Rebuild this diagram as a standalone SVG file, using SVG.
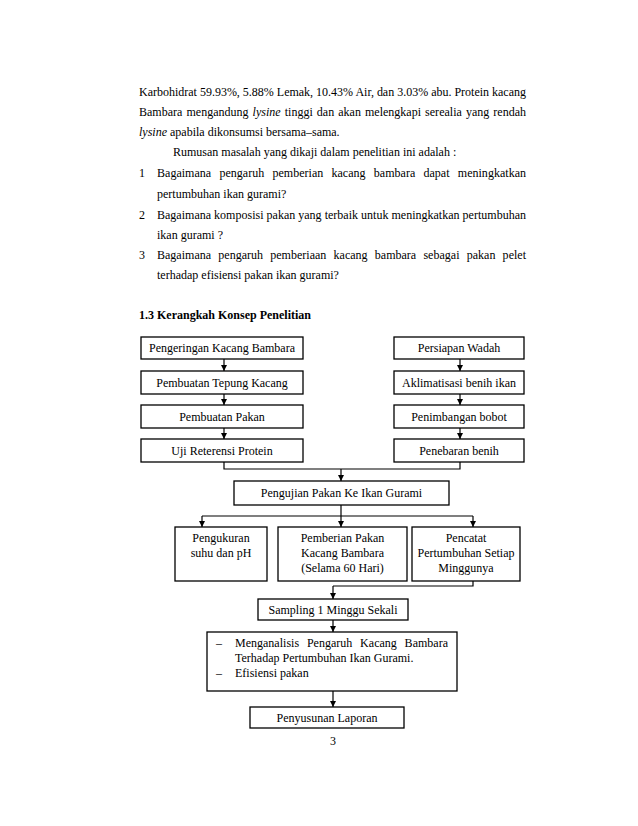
<svg xmlns="http://www.w3.org/2000/svg" width="638" height="826" viewBox="0 0 638 826">
<defs>
<marker id="arr" markerUnits="userSpaceOnUse" markerWidth="6" markerHeight="7" refX="6" refY="3" orient="auto">
<path d="M0,0 L6,3 L0,6 z" fill="#000"/>
</marker>
<style>
.body{font-family:"Liberation Serif","Times New Roman",serif;font-size:12px;fill:#000}
.hd{font-family:"Liberation Serif","Times New Roman",serif;font-size:12px;font-weight:bold;fill:#000}
.bx{fill:#fff;stroke:#000;stroke-width:1.3}
.lbl{font-family:"Liberation Serif","Times New Roman",serif;font-size:12px;fill:#000;text-anchor:middle}
.ln{fill:none;stroke:#000;stroke-width:1.2}
.ar{fill:none;stroke:#000;stroke-width:1.2;marker-end:url(#arr)}
</style>
</defs>
<rect width="638" height="826" fill="#fff"/>
<g id="text-body">
<text class="body" x="139" y="95.5" textLength="387" lengthAdjust="spacing">Karbohidrat 59.93%, 5.88% Lemak, 10.43% Air, dan 3.03% abu. Protein kacang</text>
<text class="body" x="139" y="115.5" word-spacing="1" textLength="387" lengthAdjust="spacing">Bambara mengandung <tspan font-style="italic">lysine</tspan> tinggi dan akan melengkapi serealia yang rendah</text>
<text class="body" x="139" y="135.5"><tspan font-style="italic">lysine</tspan> apabila dikonsumsi bersama–sama.</text>
<text class="body" x="173" y="155.5">Rumusan masalah yang dikaji dalam penelitian ini adalah :</text>
<text class="body" x="139" y="176.5">1</text>
<text class="body" x="157" y="176.5" word-spacing="5.2" textLength="369" lengthAdjust="spacing">Bagaimana pengaruh pemberian kacang bambara dapat meningkatkan</text>
<text class="body" x="157" y="197.5">pertumbuhan ikan gurami?</text>
<text class="body" x="139" y="218.5">2</text>
<text class="body" x="157" y="218.5" textLength="369" lengthAdjust="spacing">Bagaimana komposisi pakan yang terbaik untuk meningkatkan pertumbuhan</text>
<text class="body" x="157" y="238.5">ikan gurami ?</text>
<text class="body" x="139" y="258.5">3</text>
<text class="body" x="157" y="258.5" word-spacing="4.2" textLength="369" lengthAdjust="spacing">Bagaimana pengaruh pemberiaan kacang bambara sebagai pakan pelet</text>
<text class="body" x="157" y="278.5">terhadap efisiensi pakan ikan gurami?</text>
<text class="hd" x="139" y="319">1.3 Kerangkah Konsep Penelitian</text>
<text class="body" x="333" y="745" text-anchor="middle">3</text>
</g>
<g id="connectors">
<line class="ar" x1="224" y1="359" x2="224" y2="371"/>
<line class="ar" x1="224" y1="394" x2="224" y2="405"/>
<line class="ar" x1="224" y1="428" x2="224" y2="439"/>
<line class="ar" x1="460" y1="359" x2="460" y2="371"/>
<line class="ar" x1="460" y1="394" x2="460" y2="405"/>
<line class="ar" x1="460" y1="428" x2="460" y2="439"/>
<polyline class="ln" points="224,462 224,469 460,469 460,462"/>
<line class="ar" x1="341" y1="469" x2="341" y2="481"/>
<line class="ln" x1="341" y1="505" x2="341" y2="516"/>
<line class="ln" x1="202" y1="516" x2="473" y2="516"/>
<line class="ar" x1="202" y1="516" x2="202" y2="527"/>
<line class="ar" x1="341" y1="516" x2="341" y2="527"/>
<line class="ar" x1="473" y1="516" x2="473" y2="527"/>
<polyline class="ln" points="473,581 473,586 333,586"/>
<line class="ar" x1="333" y1="586" x2="333" y2="599"/>
<line class="ar" x1="333" y1="620" x2="333" y2="632"/>
<line class="ar" x1="333" y1="691" x2="333" y2="707"/>
</g>
<g id="n-pengeringan"><rect class="bx" x="141" y="337" width="162" height="22"/><text class="lbl" x="222" y="352">Pengeringan Kacang Bambara</text></g>
<g id="n-tepung"><rect class="bx" x="141" y="371" width="162" height="23"/><text class="lbl" x="222" y="386.5">Pembuatan Tepung Kacang</text></g>
<g id="n-pakan"><rect class="bx" x="141" y="405" width="162" height="23"/><text class="lbl" x="222" y="420.5">Pembuatan Pakan</text></g>
<g id="n-uji"><rect class="bx" x="141" y="439" width="162" height="23"/><text class="lbl" x="222" y="454.5">Uji Reterensi Protein</text></g>
<g id="n-wadah"><rect class="bx" x="394" y="337" width="130" height="22"/><text class="lbl" x="459" y="352">Persiapan Wadah</text></g>
<g id="n-aklimatisasi"><rect class="bx" x="394" y="371" width="130" height="23"/><text class="lbl" x="459" y="386.5">Aklimatisasi benih ikan</text></g>
<g id="n-penimbangan"><rect class="bx" x="394" y="405" width="130" height="23"/><text class="lbl" x="459" y="420.5">Penimbangan bobot</text></g>
<g id="n-penebaran"><rect class="bx" x="394" y="439" width="130" height="23"/><text class="lbl" x="459" y="454.5">Penebaran benih</text></g>
<g id="n-pengujian"><rect class="bx" x="234" y="481" width="215" height="24"/><text class="lbl" x="341.5" y="497">Pengujian Pakan Ke Ikan Gurami</text></g>
<g id="n-pengukuran"><rect class="bx" x="175" y="527" width="92" height="54"/><text class="lbl" x="221" y="542">Pengukuran</text><text class="lbl" x="221" y="557">suhu dan pH</text></g>
<g id="n-pemberian"><rect class="bx" x="278" y="527" width="129" height="54"/><text class="lbl" x="342.5" y="542">Pemberian Pakan</text><text class="lbl" x="342.5" y="557">Kacang Bambara</text><text class="lbl" x="342.5" y="572">(Selama 60 Hari)</text></g>
<g id="n-pencatat"><rect class="bx" x="412" y="527" width="108" height="54"/><text class="lbl" x="466" y="542">Pencatat</text><text class="lbl" x="466" y="557">Pertumbuhan Setiap</text><text class="lbl" x="466" y="572">Minggunya</text></g>
<g id="n-sampling"><rect class="bx" x="258" y="599" width="150" height="21"/><text class="lbl" x="333" y="614">Sampling 1 Minggu Sekali</text></g>
<g id="n-analisis"><rect class="bx" x="207" y="632" width="250" height="59"/>
<text class="body" x="216" y="647">–</text><text class="body" x="235" y="647" word-spacing="4.8" textLength="213" lengthAdjust="spacing">Menganalisis Pengaruh Kacang Bambara</text>
<text class="body" x="235" y="662">Terhadap Pertumbuhan Ikan Gurami.</text>
<text class="body" x="216" y="677">–</text><text class="body" x="235" y="677">Efisiensi pakan</text></g>
<g id="n-penyusunan"><rect class="bx" x="250" y="707" width="154" height="21"/><text class="lbl" x="327" y="722">Penyusunan Laporan</text></g>
</svg>
